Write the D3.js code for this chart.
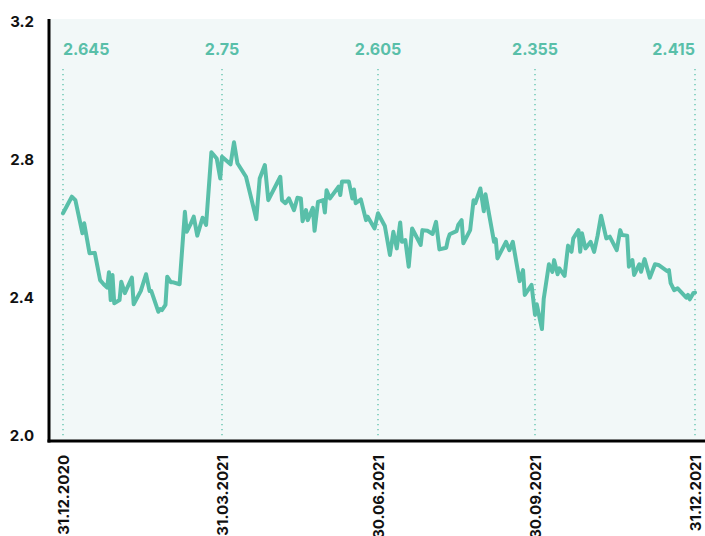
<!DOCTYPE html>
<html>
<head>
<meta charset="utf-8">
<script src="https://cdn.jsdelivr.net/npm/d3@7"></script>
<style>
  html, body { margin: 0; padding: 0; background: #fff; }
  svg { display: block; font-family: Inter, 'Noto Sans', sans-serif; }
</style>
</head>
<body>
<svg id="chart" width="705" height="536"></svg>
<script>
/* ---------- data ---------- */
const dates = [
  '2020-12-31','2021-01-05','2021-01-07','2021-01-11','2021-01-12','2021-01-15','2021-01-18','2021-01-21',
  '2021-01-23','2021-01-25','2021-01-26','2021-01-27','2021-01-28','2021-01-29','2021-02-01','2021-02-02',
  '2021-02-04','2021-02-08','2021-02-09','2021-02-13','2021-02-16','2021-02-18','2021-02-19','2021-02-23',
  '2021-02-24','2021-02-25','2021-02-27','2021-02-28','2021-03-02','2021-03-03','2021-03-07','2021-03-10',
  '2021-03-11','2021-03-13','2021-03-15','2021-03-17','2021-03-20','2021-03-22','2021-03-25','2021-03-28',
  '2021-03-30','2021-03-31','2021-04-05','2021-04-07','2021-04-09','2021-04-14','2021-04-20','2021-04-22',
  '2021-04-25','2021-04-27','2021-05-04','2021-05-05','2021-05-07','2021-05-09','2021-05-12','2021-05-14',
  '2021-05-16','2021-05-17','2021-05-19','2021-05-20','2021-05-23','2021-05-24','2021-05-26','2021-05-29',
  '2021-05-30','2021-05-31','2021-06-02','2021-06-07','2021-06-08','2021-06-09','2021-06-13','2021-06-15',
  '2021-06-16','2021-06-17','2021-06-20','2021-06-23','2021-06-24','2021-06-28','2021-06-30','2021-07-04',
  '2021-07-07','2021-07-09','2021-07-11','2021-07-13','2021-07-14','2021-07-16','2021-07-18','2021-07-20',
  '2021-07-22','2021-07-25','2021-07-26','2021-07-29','2021-08-01','2021-08-03','2021-08-05','2021-08-09',
  '2021-08-10','2021-08-11','2021-08-15','2021-08-16','2021-08-18','2021-08-19','2021-08-23','2021-08-25',
  '2021-08-26','2021-08-29','2021-08-31','2021-09-01','2021-09-06','2021-09-07','2021-09-08','2021-09-13',
  '2021-09-15','2021-09-17','2021-09-21','2021-09-23','2021-09-24','2021-09-28','2021-09-30','2021-10-01',
  '2021-10-04','2021-10-05','2021-10-08','2021-10-10','2021-10-11','2021-10-13','2021-10-14','2021-10-17',
  '2021-10-19','2021-10-21','2021-10-22','2021-10-25','2021-10-26','2021-10-27','2021-10-29','2021-11-01',
  '2021-11-03','2021-11-05','2021-11-07','2021-11-10','2021-11-12','2021-11-16','2021-11-18','2021-11-19',
  '2021-11-22','2021-11-23','2021-11-25','2021-11-26','2021-11-29','2021-11-30','2021-12-02','2021-12-05',
  '2021-12-08','2021-12-10','2021-12-15','2021-12-16','2021-12-17','2021-12-19','2021-12-21','2021-12-26',
  '2021-12-27','2021-12-28','2021-12-30','2021-12-31'
];

const values = [
  2.645, 2.693, 2.683, 2.587, 2.616, 2.529, 2.530, 2.451,
  2.439, 2.429, 2.474, 2.393, 2.466, 2.384, 2.393, 2.446,
  2.413, 2.458, 2.381, 2.419, 2.468, 2.419, 2.419, 2.359,
  2.367, 2.364, 2.379, 2.461, 2.445, 2.445, 2.439, 2.649,
  2.591, 2.611, 2.635, 2.580, 2.632, 2.611, 2.822, 2.804,
  2.746, 2.809, 2.787, 2.851, 2.790, 2.751, 2.628, 2.746,
  2.785, 2.683, 2.751, 2.683, 2.674, 2.688, 2.654, 2.690,
  2.688, 2.622, 2.654, 2.625, 2.661, 2.594, 2.678, 2.683,
  2.647, 2.712, 2.688, 2.722, 2.698, 2.737, 2.737, 2.688,
  2.714, 2.674, 2.685, 2.625, 2.635, 2.601, 2.645, 2.608,
  2.524, 2.591, 2.543, 2.618, 2.562, 2.567, 2.490, 2.601,
  2.582, 2.553, 2.596, 2.594, 2.585, 2.620, 2.540, 2.545,
  2.569, 2.584, 2.593, 2.611, 2.625, 2.558, 2.596, 2.683,
  2.674, 2.717, 2.651, 2.700, 2.562, 2.570, 2.514, 2.562,
  2.538, 2.562, 2.448, 2.480, 2.408, 2.437, 2.350, 2.381,
  2.309, 2.396, 2.497, 2.475, 2.509, 2.468, 2.485, 2.463,
  2.551, 2.533, 2.572, 2.596, 2.533, 2.587, 2.543, 2.562,
  2.533, 2.580, 2.638, 2.572, 2.577, 2.538, 2.596, 2.582,
  2.580, 2.490, 2.509, 2.466, 2.497, 2.475, 2.512, 2.458,
  2.497, 2.495, 2.477, 2.480, 2.442, 2.422, 2.427, 2.400,
  2.408, 2.395, 2.413, 2.415
];

// quarter-end markers with their annotated values
const markerDates  = ['2020-12-31', '2021-03-31', '2021-06-30', '2021-09-30', '2021-12-31'];
const markerLabels = ['2.645', '2.75', '2.605', '2.355', '2.415'];
const tickLabels   = ['31.12.2020', '31.03.2021', '30.06.2021', '30.09.2021', '31.12.2021'];
const yTicks       = [2.0, 2.4, 2.8, 3.2];

/* ---------- setup ---------- */
const parse = d3.timeParse('%Y-%m-%d');
const series = dates.map((d, i) => ({ date: parse(d), value: values[i] }));
const markers = markerDates.map(parse);

const svg = d3.select('#chart');
const plot = { left: 49, right: 705, top: 19, bottom: 441 };
const teal = '#59bfa9';

const x = d3.scaleTime()
  .domain(markers)
  .range([63, 222, 378, 535, 695]);

const y = d3.scaleLinear()
  .domain([2.0, 3.2])
  .range([435.5, 22]);

/* ---------- background ---------- */
svg.append('rect')
  .attr('x', plot.left).attr('y', plot.top)
  .attr('width', plot.right - plot.left)
  .attr('height', plot.bottom - plot.top)
  .attr('fill', '#f2f8f8');

/* ---------- quarter markers ---------- */
svg.append('g')
  .selectAll('line')
  .data(markers)
  .join('line')
  .attr('x1', d => x(d)).attr('x2', d => x(d))
  .attr('y1', 69).attr('y2', 436)
  .attr('stroke', teal)
  .attr('stroke-width', 1.3)
  .attr('stroke-dasharray', '1.3,3.7');

svg.append('g')
  .selectAll('text')
  .data(markers)
  .join('text')
  .attr('x', d => x(d))
  .attr('y', 55)
  .attr('text-anchor', (d, i) => i === 0 ? 'start' : i === markers.length - 1 ? 'end' : 'middle')
  .attr('fill', teal)
  .attr('font-size', 16)
  .attr('font-weight', 700)
  .text((d, i) => markerLabels[i]);

/* ---------- line ---------- */
const line = d3.line()
  .x(d => x(d.date))
  .y(d => y(d.value));

svg.append('path')
  .datum(series)
  .attr('d', line)
  .attr('fill', 'none')
  .attr('stroke', teal)
  .attr('stroke-width', 4)
  .attr('stroke-linejoin', 'round')
  .attr('stroke-linecap', 'round');

/* ---------- axes ---------- */
const yAxis = svg.append('g')
  .attr('transform', `translate(${plot.left},0)`)
  .call(d3.axisLeft(y).tickValues(yTicks).tickFormat(d3.format('.1f')).tickSize(0).tickPadding(15));
yAxis.select('.domain').remove();
yAxis.selectAll('text')
  .attr('fill', '#111')
  .attr('font-size', 15)
  .attr('font-weight', 700)
  .attr('font-family', 'Inter, sans-serif');

const xAxis = svg.append('g')
  .attr('transform', `translate(0,${plot.bottom})`)
  .call(d3.axisBottom(x).tickValues(markers).tickFormat((d, i) => tickLabels[i]).tickSize(0));
xAxis.select('.domain').remove();
xAxis.selectAll('text')
  .attr('fill', '#111')
  .attr('font-size', 15)
  .attr('font-weight', 700)
  .attr('font-family', 'Inter, sans-serif')
  .attr('text-anchor', 'end')
  .attr('transform', 'rotate(-90)')
  .attr('x', -14)
  .attr('y', 0)
  .attr('dy', '0.38em');

svg.append('line')
  .attr('x1', plot.left).attr('x2', plot.left)
  .attr('y1', plot.top).attr('y2', plot.bottom + 1.5)
  .attr('stroke', '#000').attr('stroke-width', 3);

svg.append('line')
  .attr('x1', plot.left - 1.5).attr('x2', plot.right)
  .attr('y1', plot.bottom).attr('y2', plot.bottom)
  .attr('stroke', '#000').attr('stroke-width', 3);
</script>
</body>
</html>
